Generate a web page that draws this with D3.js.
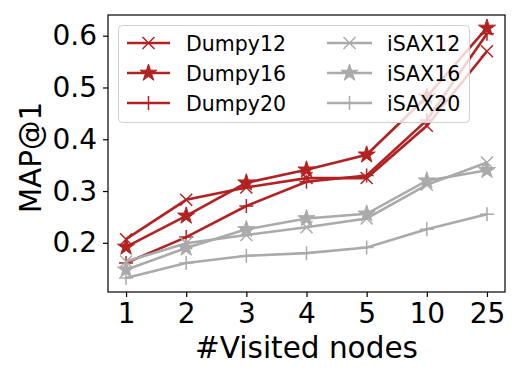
<!DOCTYPE html>
<html>
<head>
<meta charset="utf-8">
<script src="https://cdn.jsdelivr.net/npm/d3@7"></script>
<style>
  body { margin: 0; background: #fff; }
  text { font-family: "DejaVu Sans", sans-serif; fill: #000; }
</style>
</head>
<body>
<svg id="chart" width="520" height="380"></svg>
<script>
const visited = ["1", "2", "3", "4", "5", "10", "25"];
const dumpy12 = [0.207, 0.283, 0.307, 0.325, 0.325, 0.426, 0.570];
const dumpy16 = [0.192, 0.252, 0.316, 0.341, 0.370, 0.482, 0.615];
const dumpy20 = [0.161, 0.211, 0.271, 0.318, 0.330, 0.437, 0.604];
const isax12 = [0.164, 0.199, 0.215, 0.230, 0.247, 0.312, 0.355];
const isax16 = [0.148, 0.190, 0.226, 0.247, 0.256, 0.320, 0.340];
const isax20 = [0.132, 0.161, 0.175, 0.180, 0.191, 0.226, 0.255];
const yTicks = [0.2, 0.3, 0.4, 0.5, 0.6];

const red = "#b22222";
const gray = "#aaaaaa";

const series = [
    { name: "Dumpy12", values: dumpy12, color: red, marker: "x" },
    { name: "Dumpy16", values: dumpy16, color: red, marker: "star" },
    { name: "Dumpy20", values: dumpy20, color: red, marker: "plus" },
    { name: "iSAX12", values: isax12, color: gray, marker: "x" },
    { name: "iSAX16", values: isax16, color: gray, marker: "star" },
    { name: "iSAX20", values: isax20, color: gray, marker: "plus" },
];

const mLeft = 108, mRight = 505, mTop = 15, mBottom = 292;
const svg = d3.select("#chart");

const x = d3.scalePoint().domain(visited).range([mLeft, mRight]).padding(0.3);
const y = d3.scaleLinear().domain([0.105, 0.64]).range([mBottom, mTop]);

// star path with outer radius r
function starPath(r) {
    const pts = [];
    for (let i = 0; i < 10; i++) {
        const rad = i % 2 === 0 ? r : r * 0.38;
        const a = -Math.PI / 2 + i * Math.PI / 5;
        pts.push([rad * Math.cos(a), rad * Math.sin(a)]);
    }
    return "M" + pts.map(p => p.join(",")).join("L") + "Z";
}

function drawMarker(g, type, color) {
    if (type === "star") {
        g.append("path").attr("d", starPath(9)).attr("fill", color)
            .attr("stroke", color).attr("stroke-width", 1);
    } else if (type === "x") {
        const s = 6;
        g.append("path").attr("d", `M${-s},${-s}L${s},${s}M${-s},${s}L${s},${-s}`)
            .attr("stroke", color).attr("stroke-width", 1.5).attr("fill", "none");
    } else {
        const s = 7;
        g.append("path").attr("d", `M${-s},0L${s},0M0,${-s}L0,${s}`)
            .attr("stroke", color).attr("stroke-width", 1.5).attr("fill", "none");
    }
}

const line = d3.line()
    .x((d, i) => x(visited[i]))
    .y(d => y(d));

const plot = svg.append("g");
series.forEach(s => {
    plot.append("path")
        .attr("d", line(s.values))
        .attr("fill", "none")
        .attr("stroke", s.color)
        .attr("stroke-width", 2.6);
    s.values.forEach((v, i) => {
        const g = plot.append("g").attr("transform", `translate(${x(visited[i])},${y(v)})`);
        drawMarker(g, s.marker, s.color);
    });
});

// frame
svg.append("rect")
    .attr("x", mLeft).attr("y", mTop)
    .attr("width", mRight - mLeft).attr("height", mBottom - mTop)
    .attr("fill", "none").attr("stroke", "#000").attr("stroke-width", 1.2);

// x axis
const xAxis = svg.append("g").attr("transform", `translate(0,${mBottom})`)
    .call(d3.axisBottom(x).tickSize(5).tickPadding(6));
xAxis.select(".domain").remove();
xAxis.selectAll("line").attr("stroke", "#000").attr("stroke-width", 1.2);
xAxis.selectAll("text").attr("font-size", 28).style("font-family", "DejaVu Sans");

// y axis
const yAxis = svg.append("g").attr("transform", `translate(${mLeft},0)`)
    .call(d3.axisLeft(y).tickValues(yTicks).tickFormat(d3.format(".1f")).tickSize(5).tickPadding(6));
yAxis.select(".domain").remove();
yAxis.selectAll("line").attr("stroke", "#000").attr("stroke-width", 1.2);
yAxis.selectAll("text").attr("font-size", 28).style("font-family", "DejaVu Sans");

svg.append("text")
    .attr("x", (mLeft + mRight) / 2).attr("y", 358)
    .attr("text-anchor", "middle").attr("font-size", 29.5)
    .text("#Visited nodes");

svg.append("text")
    .attr("transform", "translate(41,157.5) rotate(-90)")
    .attr("text-anchor", "middle").attr("font-size", 29.5)
    .text("MAP@1");

// legend
const legend = svg.append("g");
legend.append("rect")
    .attr("x", 118.5).attr("y", 25.5).attr("width", 351).attr("height", 97)
    .attr("rx", 4).attr("fill", "#fff").attr("fill-opacity", 0.8)
    .attr("stroke", "#d0d0d0").attr("stroke-width", 1);

series.forEach((s, i) => {
    const col = Math.floor(i / 3), row = i % 3;
    const x0 = col === 0 ? 127 : 327;
    const x1 = col === 0 ? 170 : 372;
    const tx = col === 0 ? 186 : 387;
    const cy = 43 + row * 30;
    legend.append("line")
        .attr("x1", x0).attr("x2", x1).attr("y1", cy).attr("y2", cy)
        .attr("stroke", s.color).attr("stroke-width", 2.6);
    const g = legend.append("g").attr("transform", `translate(${(x0 + x1) / 2},${cy})`);
    drawMarker(g, s.marker, s.color);
    legend.append("text")
        .attr("x", tx).attr("y", cy + 7.5)
        .attr("font-size", 20.5)
        .text(s.name);
});
</script>
</body>
</html>
